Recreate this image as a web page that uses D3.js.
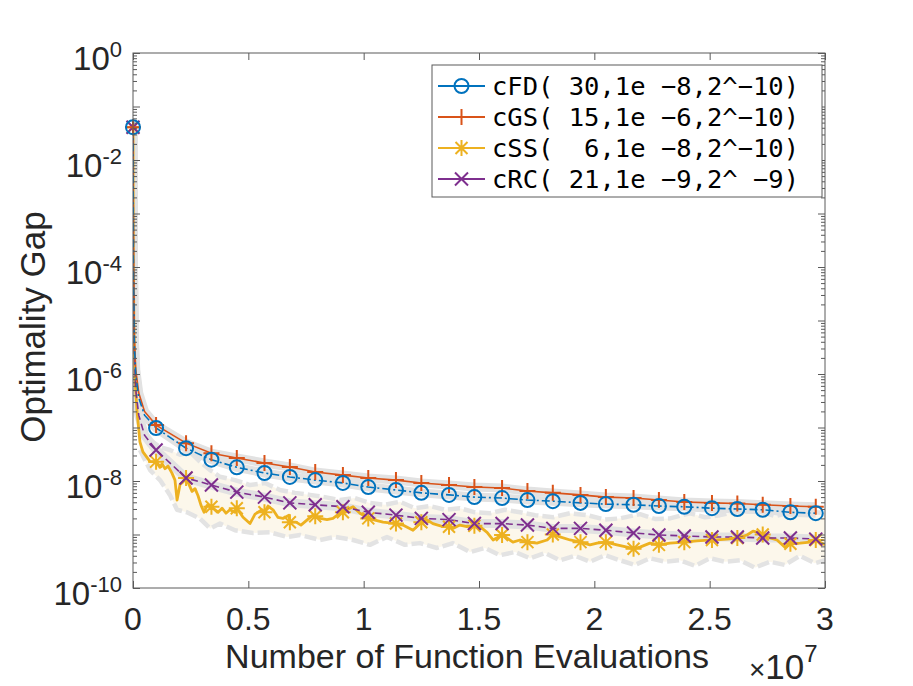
<!DOCTYPE html>
<html><head><meta charset="utf-8">
<script src="https://cdn.jsdelivr.net/npm/d3@7"></script>
<style>body{margin:0;background:#fff}svg{display:block}</style>
</head><body>
<svg id="chart" width="913" height="686"></svg>
<script>
// ---------- data ----------
const xTicks = [0, 0.5, 1, 1.5, 2, 2.5, 3];
const xTickLabels = ["0", "0.5", "1", "1.5", "2", "2.5", "3"];
const yLabelExps = [0, -2, -4, -6, -8, -10];
const xMultiplier = "7";
const seriesNames = ["cFD( 30,1e \u22128,2^\u221210)", "cGS( 15,1e \u22126,2^\u221210)", "cSS(  6,1e \u22128,2^\u221210)", "cRC( 21,1e \u22129,2^ \u22129)"];
const seriesColors = ["#0072BD", "#D95319", "#EDB120", "#7E2F8E"];
const seriesMarkers = ["o", "+", "*", "x"];

// marker positions (x in units of 1e7 function evaluations)
const markerX = [0, 0.10, 0.23, 0.34, 0.45, 0.57, 0.68, 0.79, 0.91, 1.02, 1.14, 1.25, 1.37, 1.48, 1.6, 1.71, 1.82, 1.94, 2.05, 2.17, 2.28, 2.39, 2.51, 2.62, 2.73, 2.85, 2.96];
// early steep part (between first and second markers)
const headX = [0.002, 0.006, 0.012, 0.025, 0.05];

const cfdHead = [8.8e-5, 3.5e-6, 9.6e-7, 3.6e-7, 1.7e-7];
const cfdMarkers = [0.041, 9.8e-8, 4.1e-8, 2.5e-8, 1.8e-8, 1.41e-8, 1.19e-8, 1.04e-8, 9.2e-9, 7.7e-9, 6.8e-9, 6.0e-9, 5.5e-9, 5.0e-9, 4.8e-9, 4.4e-9, 4.2e-9, 3.9e-9, 3.7e-9, 3.6e-9, 3.4e-9, 3.3e-9, 3.1e-9, 3.0e-9, 2.9e-9, 2.6e-9, 2.5e-9];

const cgsHead = [1.1e-4, 4.3e-6, 1.2e-6, 4.4e-7, 2.0e-7];
const cgsMarkers = [0.041, 1.11e-7, 5.1e-8, 3.3e-8, 2.7e-8, 2.17e-8, 1.83e-8, 1.47e-8, 1.29e-8, 1.14e-8, 1.04e-8, 9.2e-9, 8.4e-9, 7.7e-9, 7.4e-9, 6.5e-9, 6.0e-9, 5.5e-9, 5.0e-9, 4.8e-9, 4.4e-9, 4.05e-9, 3.9e-9, 3.8e-9, 3.6e-9, 3.4e-9, 3.3e-9];

const crcHead = [7.0e-5, 2.3e-6, 5.0e-7, 1.7e-7, 7.2e-8];
const crcMarkers = [0.041, 3.8e-8, 1.14e-8, 8.4e-9, 6.2e-9, 5.0e-9, 3.9e-9, 3.6e-9, 3.3e-9, 2.6e-9, 2.3e-9, 2.0e-9, 1.9e-9, 1.6e-9, 1.6e-9, 1.5e-9, 1.3e-9, 1.3e-9, 1.2e-9, 1.07e-9, 9.8e-10, 9.4e-10, 9.0e-10, 9.0e-10, 8.6e-10, 8.6e-10, 8.2e-10];

const cssMarkers = [0.041, 2.3e-8, 1.14e-8, 3.3e-9, 3.1e-9, 2.6e-9, 1.7e-9, 2.2e-9, 2.6e-9, 2.0e-9, 1.6e-9, 1.7e-9, 1.4e-9, 1.45e-9, 9.8e-10, 7.2e-10, 1.0e-9, 7.2e-10, 7.2e-10, 5.4e-10, 6.4e-10, 7.2e-10, 7.9e-10, 8.6e-10, 1.0e-9, 6.7e-10, 7.9e-10];
const cssX = [0.0013, 0.004, 0.009, 0.017, 0.030, 0.043, 0.074, 0.117, 0.126, 0.139, 0.152, 0.169, 0.182, 0.191, 0.204, 0.217, 0.256, 0.269, 0.282, 0.295, 0.308, 0.321, 0.369, 0.386, 0.403, 0.420, 0.442, 0.477, 0.507, 0.529, 0.559, 0.585, 0.607, 0.628, 0.650, 0.676, 0.707, 0.728, 0.750, 0.780, 0.811, 0.841, 0.867, 0.897, 0.928, 0.954, 0.984, 1.040, 1.084, 1.170, 1.214, 1.274, 1.300, 1.344, 1.387, 1.417, 1.448, 1.504, 1.535, 1.561, 1.621, 1.647, 1.678, 1.751, 1.795, 1.851, 1.895, 1.981, 2.012, 2.098, 2.142, 2.198, 2.241, 2.328, 2.445, 2.532, 2.575, 2.662, 2.688, 2.718, 2.761, 2.792, 2.826, 2.892, 2.935, 3.0];
const cssY = [2.1e-4, 6.6e-6, 7.7e-7, 2.1e-7, 5.4e-8, 3.5e-8, 2.3e-8, 1.8e-8, 2.1e-8, 1.7e-8, 1.9e-8, 1.4e-8, 1.04e-8, 4.4e-9, 8.6e-9, 9.6e-9, 6.4e-9, 7.2e-9, 5.3e-9, 3.5e-9, 2.6e-9, 3.5e-9, 2.6e-9, 3.1e-9, 2.5e-9, 2.9e-9, 2.6e-9, 2.1e-9, 1.6e-9, 2.4e-9, 2.9e-9, 3.4e-9, 2.9e-9, 2.1e-9, 2.0e-9, 2.3e-9, 1.7e-9, 1.5e-9, 1.8e-9, 2.3e-9, 2.0e-9, 1.9e-9, 2.0e-9, 2.5e-9, 2.9e-9, 3.3e-9, 2.5e-9, 1.9e-9, 1.7e-9, 1.5e-9, 1.2e-9, 1.9e-9, 1.6e-9, 1.4e-9, 1.3e-9, 1.5e-9, 1.4e-9, 1.4e-9, 1.1e-9, 7.9e-10, 8.6e-10, 7.2e-10, 7.9e-10, 6.9e-10, 7.9e-10, 9.0e-10, 7.9e-10, 6.4e-10, 6.9e-10, 6.4e-10, 5.8e-10, 5.8e-10, 6.9e-10, 6.9e-10, 7.6e-10, 7.9e-10, 8.2e-10, 9.8e-10, 1.16e-9, 1.07e-9, 8.6e-10, 7.9e-10, 5.8e-10, 6.9e-10, 7.2e-10, 6.4e-10];

// spread band around cSS (upper and lower runs)
const cssUpperX = [0.030, 0.074, 0.117, 0.160, 0.204, 0.247, 0.290, 0.334, 0.377, 0.442, 0.507, 0.572, 0.637, 0.702, 0.767, 0.832, 0.897, 0.962, 1.027, 1.092, 1.157, 1.222, 1.287, 1.352, 1.417, 1.483, 1.548, 1.613, 1.678, 1.743, 1.821, 1.894, 1.968, 2.046, 2.111, 2.198, 2.263, 2.328, 2.415, 2.48, 2.545, 2.632, 2.731, 2.783, 2.835, 2.913, 3.0];
const cssUpperY = [1.1e-7, 5.8e-8, 4.3e-8, 3.8e-8, 3.1e-8, 3.5e-8, 2.3e-8, 1.6e-8, 1.2e-8, 1.04e-8, 8.4e-9, 9.2e-9, 6.8e-9, 6.0e-9, 5.5e-9, 5.0e-9, 4.4e-9, 4.8e-9, 3.9e-9, 3.6e-9, 4.1e-9, 3.1e-9, 3.4e-9, 2.9e-9, 3.1e-9, 2.6e-9, 2.5e-9, 2.9e-9, 2.6e-9, 2.3e-9, 2.1e-9, 2.5e-9, 2.3e-9, 1.9e-9, 2.0e-9, 2.4e-9, 1.95e-9, 2.0e-9, 2.5e-9, 2.1e-9, 2.3e-9, 2.75e-9, 2.6e-9, 2.2e-9, 2.5e-9, 2.75e-9, 2.5e-9];
const cssLowerX = [0.030, 0.074, 0.117, 0.160, 0.191, 0.234, 0.290, 0.334, 0.377, 0.442, 0.520, 0.594, 0.668, 0.724, 0.811, 0.876, 0.954, 1.027, 1.101, 1.179, 1.244, 1.318, 1.387, 1.461, 1.526, 1.591, 1.656, 1.721, 1.786, 1.851, 1.916, 1.981, 2.046, 2.111, 2.176, 2.241, 2.306, 2.371, 2.436, 2.501, 2.566, 2.632, 2.696, 2.761, 2.826, 2.891, 2.956, 3.0];
const cssLowerY = [3.8e-8, 1.6e-8, 1.04e-8, 5.5e-9, 2.9e-9, 2.6e-9, 2.0e-9, 1.3e-9, 1.6e-9, 1.2e-9, 1.07e-9, 1.1e-9, 9.0e-10, 9.8e-10, 7.9e-10, 9.0e-10, 7.9e-10, 6.4e-10, 9.0e-10, 6.4e-10, 6.9e-10, 5.6e-10, 6.9e-10, 4.7e-10, 5.6e-10, 4.1e-10, 4.7e-10, 3.6e-10, 4.5e-10, 3.3e-10, 4.0e-10, 3.1e-10, 4.1e-10, 3.3e-10, 2.7e-10, 3.6e-10, 3.1e-10, 3.3e-10, 2.6e-10, 3.6e-10, 3.1e-10, 3.3e-10, 2.4e-10, 3.1e-10, 2.7e-10, 4.0e-10, 2.9e-10, 3.3e-10];

// ---------- layout ----------
const svg = d3.select("#chart");
const L = 133, R = 825, T = 53, B = 588;
const x = d3.scaleLinear().domain([0, 3]).range([L, R]);
const y = d3.scaleLog().domain([1e-10, 1]).range([B, T]);
const FONT = "'Liberation Sans', Arial, Helvetica, sans-serif";
const TXT = "#262626";
const AX = "#5a5a5a";

svg.append("rect").attr("width", 913).attr("height", 686).attr("fill", "#fff");

svg.append("defs").append("clipPath").attr("id", "clip")
  .append("rect").attr("x", L).attr("y", T).attr("width", R - L).attr("height", B - T);

const plot = svg.append("g").attr("clip-path", "url(#clip)");

function smoothPoints(head, markers) {
  const pts = [[markerX[0], markers[0]]];
  headX.forEach((hx, i) => pts.push([hx, head[i]]));
  markerX.slice(1).forEach((mx, i) => pts.push([mx, markers[i + 1]]));
  return pts;
}
const line = d3.line().x(d => x(d[0])).y(d => y(d[1]));

// cSS band fill
const upperPts = cssUpperX.map((v, i) => [v, cssUpperY[i]]);
const lowerPts = cssLowerX.map((v, i) => [v, cssLowerY[i]]);
plot.append("path")
  .attr("d", line(upperPts.concat(lowerPts.slice().reverse())) + "Z")
  .attr("fill", "#fcf6e8").attr("opacity", 0.85);
[upperPts, lowerPts].forEach(p => {
  plot.append("path").attr("d", line(p)).attr("fill", "none")
    .attr("stroke", "#e3e3e3").attr("stroke-width", 4.5)
    .attr("stroke-dasharray", "12,4").attr("stroke-linejoin", "round");
});

const smooth = [
  { pts: smoothPoints(crcHead, crcMarkers), color: seriesColors[3], dash: "7,4", marker: "x", mk: crcMarkers },
  { pts: smoothPoints(cgsHead, cgsMarkers), color: seriesColors[1], dash: null, marker: "+", mk: cgsMarkers },
  { pts: smoothPoints(cfdHead, cfdMarkers), color: seriesColors[0], dash: "8,3,2,3", marker: "o", mk: cfdMarkers }
];

// grey bands under the smooth series
smooth.forEach(s => {
  plot.append("path").attr("d", line(s.pts)).attr("fill", "none")
    .attr("stroke", "#e2e2e2").attr("stroke-width", 9).attr("stroke-linejoin", "round");
});

// cSS line: merge raw trace with marker points
const cssPts = cssX.map((v, i) => [v, cssY[i]])
  .concat(markerX.map((v, i) => [v, cssMarkers[i]]))
  .sort((a, b) => a[0] - b[0]);
plot.append("path").attr("d", line(cssPts)).attr("fill", "none")
  .attr("stroke", seriesColors[2]).attr("stroke-width", 2.8).attr("stroke-linejoin", "round");

smooth.forEach(s => {
  const p = plot.append("path").attr("d", line(s.pts)).attr("fill", "none")
    .attr("stroke", s.color).attr("stroke-width", 1.6);
  if (s.dash) p.attr("stroke-dasharray", s.dash);
});

// markers
const markerPaths = {
  "+": "M-8,0H8M0,-8V8",
  "x": "M-6.5,-6.5L6.5,6.5M-6.5,6.5L6.5,-6.5",
  "*": "M-8,0H8M0,-8V8M-6,-6L6,6M-6,6L6,-6"
};
function drawMarker(g, type, cx, cy, color) {
  if (type === "o") {
    g.append("circle").attr("cx", cx).attr("cy", cy).attr("r", 7)
      .attr("fill", "none").attr("stroke", color).attr("stroke-width", 2);
  } else {
    g.append("path").attr("d", markerPaths[type])
      .attr("transform", `translate(${cx},${cy})`)
      .attr("fill", "none").attr("stroke", color).attr("stroke-width", 2);
  }
}
const mg = svg.append("g");
markerX.forEach((mx, i) => drawMarker(mg, "*", x(mx), y(cssMarkers[i]), seriesColors[2]));
smooth.forEach(s => markerX.forEach((mx, i) => drawMarker(mg, s.marker, x(mx), y(s.mk[i]), s.color)));

// ---------- axes ----------
const minorVals = [];
for (let e = -10; e < 0; e++) for (let m = 2; m <= 9; m++) minorVals.push(m * Math.pow(10, e));
const majorVals = d3.range(-10, 1).map(e => Math.pow(10, e));

function styleAxis(g) {
  g.select(".domain").remove();
  g.selectAll("line").attr("stroke", AX).attr("stroke-width", 1);
  g.selectAll("text").remove();
}
svg.append("g").attr("transform", `translate(${L},0)`)
  .call(d3.axisLeft(y).tickValues(majorVals).tickSize(-7)).call(styleAxis);
svg.append("g").attr("transform", `translate(${L},0)`)
  .call(d3.axisLeft(y).tickValues(minorVals).tickSize(-4)).call(styleAxis);
svg.append("g").attr("transform", `translate(${R},0)`)
  .call(d3.axisRight(y).tickValues(majorVals).tickSize(-7)).call(styleAxis);
svg.append("g").attr("transform", `translate(${R},0)`)
  .call(d3.axisRight(y).tickValues(minorVals).tickSize(-4)).call(styleAxis);
svg.append("g").attr("transform", `translate(0,${B})`)
  .call(d3.axisBottom(x).tickValues(xTicks).tickSize(-7)).call(styleAxis);
svg.append("g").attr("transform", `translate(0,${T})`)
  .call(d3.axisTop(x).tickValues(xTicks).tickSize(-7)).call(styleAxis);

svg.append("rect").attr("x", L).attr("y", T).attr("width", R - L).attr("height", B - T)
  .attr("fill", "none").attr("stroke", AX).attr("stroke-width", 1);

// y tick labels
yLabelExps.forEach(e => {
  const t = svg.append("text").attr("x", 122).attr("y", y(Math.pow(10, e)) + 17)
    .attr("text-anchor", "end").attr("font-family", FONT).attr("fill", TXT);
  t.append("tspan").attr("font-size", 33).text("10");
  t.append("tspan").attr("font-size", 22).attr("dy", -13).text(e === 0 ? "0" : "-" + Math.abs(e));
});
// x tick labels
xTicks.forEach((v, i) => {
  svg.append("text").attr("x", x(v)).attr("y", 630).attr("text-anchor", "middle")
    .attr("font-family", FONT).attr("font-size", 32).attr("fill", TXT).text(xTickLabels[i]);
});
// multiplier
const mult = svg.append("text").attr("x", 749).attr("y", 679).attr("font-family", FONT).attr("fill", TXT);
mult.append("tspan").attr("font-size", 28).text("\u00d7");
mult.append("tspan").attr("font-size", 35).text("10");
mult.append("tspan").attr("font-size", 24).attr("dy", -17).text(xMultiplier);

// axis titles
svg.append("text").attr("x", 467).attr("y", 668).attr("text-anchor", "middle")
  .attr("font-family", FONT).attr("font-size", 34).attr("fill", TXT).text("Number of Function Evaluations");
svg.append("text").attr("transform", "translate(45,327) rotate(-90)").attr("text-anchor", "middle")
  .attr("font-family", FONT).attr("font-size", 35).attr("fill", TXT).text("Optimality Gap");

// ---------- legend ----------
const lg = svg.append("g");
lg.append("rect").attr("x", 432).attr("y", 65).attr("width", 390).attr("height", 132)
  .attr("fill", "#fff").attr("stroke", AX).attr("stroke-width", 1);
const legendOrder = [0, 1, 2, 3];
legendOrder.forEach((si, r) => {
  const cy = 86 + r * 31;
  lg.append("line").attr("x1", 438).attr("x2", 485).attr("y1", cy).attr("y2", cy)
    .attr("stroke", seriesColors[si]).attr("stroke-width", 2.2);
  drawMarker(lg, seriesMarkers[si], 461.5, cy, seriesColors[si]);
  lg.append("text").attr("x", 492).attr("y", cy).attr("dominant-baseline", "central")
    .attr("font-family", "'DejaVu Sans Mono', monospace").attr("font-size", 25.5)
    .attr("fill", "#000").style("white-space", "pre").attr("xml:space", "preserve")
    .text(seriesNames[si]);
});
</script>
</body></html>
